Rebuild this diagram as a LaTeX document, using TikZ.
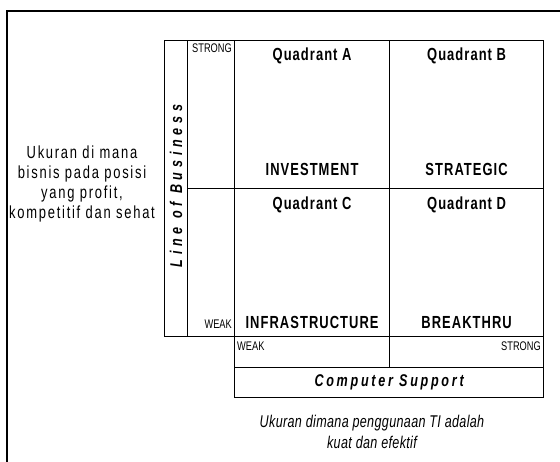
\documentclass[tikz,border=0pt]{standalone}
\usepackage{fontspec}
\setmainfont{Liberation Sans}[FakeStretch=0.74]
\newfontfamily\trackedfont{Liberation Sans}[FakeStretch=0.74,LetterSpace=6]
\newfontfamily\notefont{Liberation Sans}[FakeStretch=0.74,LetterSpace=10]
\newfontfamily\italfont{Liberation Sans}[FakeStretch=0.74,LetterSpace=2]
\newfontfamily\supportfont{Liberation Sans}[FakeStretch=0.74,LetterSpace=16]
\newfontfamily\widefont{Liberation Sans}[FakeStretch=0.74,LetterSpace=28]
\usetikzlibrary{positioning}

\begin{document}
\begin{tikzpicture}[x=1pt,y=-1pt,
    cell/.style={draw,line width=1.2pt,anchor=north west,inner sep=0pt},
    tiny/.style={inner sep=0pt,font=\fontsize{12.5}{14}\selectfont},
    title/.style={inner sep=0pt,font=\trackedfont\bfseries\fontsize{17.5}{18}\selectfont},
    note/.style={inner sep=0pt,align=center,font=\notefont\fontsize{17.5}{19.7}\selectfont,
      execute at begin node={\baselineskip=19.7pt}}]
    \useasboundingbox (0,0) rectangle (560,462);
    \draw[line width=1.5pt] (560,11) -| (7,462);

    % grid of quadrants
    \node[cell,minimum width=23pt,minimum height=296pt] (lob) at (164,40) {};
    \node[cell,minimum width=47pt,minimum height=148pt] (strongcell) at (187,40) {};
    \node[cell,minimum width=47pt,minimum height=148pt] (weakcell) at (187,188) {};
    \node[cell,minimum width=155pt,minimum height=148pt] (qa) at (234,40) {};
    \node[cell,minimum width=154pt,minimum height=148pt] (qb) at (389,40) {};
    \node[cell,minimum width=155pt,minimum height=148pt] (qc) at (234,188) {};
    \node[cell,minimum width=154pt,minimum height=148pt] (qd) at (389,188) {};
    \node[cell,minimum width=155pt,minimum height=31pt] (weakrow) at (234,336) {};
    \node[cell,minimum width=154pt,minimum height=31pt] (strongrow) at (389,336) {};
    \node[cell,minimum width=309pt,minimum height=30pt] (cs) at (234,367) {};

    % labels
    \node[tiny,anchor=base east] (lobstrong) at (232,53) {STRONG};
    \node[tiny,anchor=base east] (lobweak) at (232,329) {WEAK};
    \node[tiny,anchor=base west] (csweak) at (237,351) {WEAK};
    \node[tiny,anchor=base east] (csstrong) at (541,351) {STRONG};

    \node[title,anchor=base] (qatitle) at (qa.north |- 0,61) {Quadrant A};
    \node[title,anchor=base] (qbtitle) at (qb.north |- 0,61) {Quadrant B};
    \node[title,anchor=base] (qctitle) at (qc.north |- 0,210) {Quadrant C};
    \node[title,anchor=base] (qdtitle) at (qd.north |- 0,210) {Quadrant D};
    \node[title,anchor=base] (qaname) at (qa.south |- 0,176) {INVESTMENT};
    \node[title,anchor=base] (qbname) at (qb.south |- 0,176) {STRATEGIC};
    \node[title,anchor=base] (qcname) at (qc.south |- 0,329) {INFRASTRUCTURE};
    \node[title,anchor=base] (qdname) at (qd.south |- 0,329) {BREAKTHRU};

    \node[title,font=\supportfont\bfseries\itshape\fontsize{17}{18}\selectfont] (cslabel) at (cs.center) {Computer Support};
    \node[inner sep=0pt,rotate=90,font=\widefont\bfseries\itshape\fontsize{17}{18}\selectfont] (loblabel) at (176,186) {Line of Business};

    \node[note] (bizdesc) at (82,184) {Ukuran di mana\\bisnis pada posisi\\yang profit,\\kompetitif dan sehat};
    \node[note,font=\italfont\itshape\fontsize{17}{21}\selectfont,
      execute at begin node={\baselineskip=21pt}] (itdesc) at (372,432) {Ukuran dimana penggunaan TI adalah\\kuat dan efektif};
  \end{tikzpicture}
\end{document}
